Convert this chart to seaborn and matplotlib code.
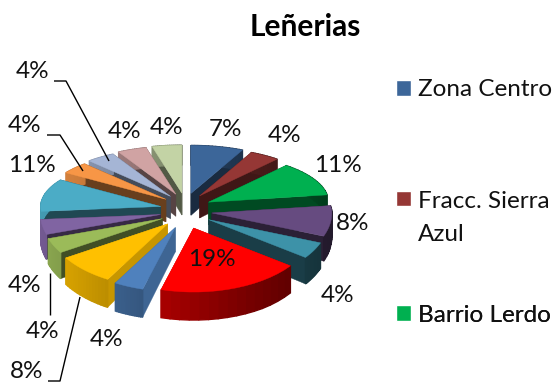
import numpy as np
import matplotlib
matplotlib.use("Agg")
import matplotlib.pyplot as plt
import seaborn as sns
from matplotlib.patches import Polygon, Patch, Rectangle
from matplotlib.legend_handler import HandlerPatch

sns.set_theme(style="white")
plt.rcParams['font.family'] = ['Lato', 'DejaVu Sans']

values = [7, 4, 11, 8, 4, 19, 4, 8, 4, 4, 11, 4, 4, 4, 4]
value_labels = [f"{v}%" for v in values]
slice_colors = ["#3C6699", "#953735", "#00B050", "#664B80", "#3D92A8", "#FF0000",
                "#4F81BD", "#FFC000", "#9BBB59", "#8064A2", "#4BACC6", "#F79646",
                "#A5B5D5", "#D0A3A3", "#C3D3A5"]
legend_names = ["Zona Centro", "Fracc. Sierra\nAzul", "Barrio Lerdo"]
title_text = "Leñerias"

palette = sns.color_palette(slice_colors)

W, H = 554, 383
fig = plt.figure(figsize=(W / 100, H / 100), dpi=100)
ax = fig.add_axes([0, 0, 1, 1])
ax.set_xlim(0, W)
ax.set_ylim(H, 0)
ax.axis("off")

CX, CY, RX, RY_B, RY_F, EX_R, EX_L, EY = 185, 211, 120, 48, 64, 27, 25, 18


def warp(theta):
    return theta + np.radians(5) * np.sin(theta / 2) ** 2


def project(theta, r, mid):
    th = warp(theta)
    m = warp(mid)
    ex = EX_R if np.sin(m) > 0 else EX_L
    dx = ex * np.sin(m)
    dy = -EY * np.cos(m)
    ry = RY_F if np.cos(th) < 0 else RY_B
    return CX + dx + r * RX * np.sin(th), CY + dy - r * ry * np.cos(th)


def depth(y):
    return 20 + 8 * np.clip((y - 165) / 115, 0, 1)


def shade(c, f):
    return tuple(min(1, v * f) for v in c)


total = sum(values)
edges = np.radians(np.cumsum([0] + values) / total * 360)
order = sorted(range(len(values)), key=lambda i: -np.cos((edges[i] + edges[i + 1]) / 2))

for i in order:
    a, b = edges[i], edges[i + 1]
    mid = (a + b) / 2
    col = palette[i]
    ths = np.linspace(a, b, 16)
    tip = project(a, 0, mid)
    outer = [project(t, 1, mid) for t in ths]
    tip_d = depth(tip[1])
    wall = 0.78 if np.cos(mid) < -0.7 else 0.42
    for p in (outer[0], outer[-1]):
        quad = [tip, p, (p[0], p[1] + depth(p[1])), (tip[0], tip[1] + tip_d)]
        ax.add_patch(Polygon(quad, closed=True, fc=shade(col, wall), ec=shade(col, wall), lw=0.3))
    for j in range(len(outer) - 1):
        p, q = outer[j], outer[j + 1]
        f = 0.62 - 0.28 * np.sin(ths[j])
        quad = [p, q, (q[0], q[1] + depth(q[1])), (p[0], p[1] + depth(p[1]))]
        ax.add_patch(Polygon(quad, closed=True, fc=shade(col, f), ec=shade(col, f), lw=1.0))
    ax.add_patch(Polygon([tip] + outer, closed=True, fc=col, ec=col, lw=0.3))

ax.text(305, 27, title_text, ha="center", va="center", fontsize=21.5,
        fontweight="bold", color="black")

label_xy = [(225, 130), (285, 135), (338, 165), (353, 223), (338, 295), (212, 260),
            (107, 340), (27, 372), (43, 332), (25, 286), (32, 166), (25, 126),
            (33, 72), (125, 132), (167, 128)]
for (x, y), s in zip(label_xy, value_labels):
    ax.text(x, y, s, ha="center", va="center", fontsize=17.5, color="#111111")

leaders = [[(54, 81), (66, 81), (109, 161)],
           [(47, 135), (60, 135), (83, 171)],
           [(50, 273), (50, 315)],
           [(48, 381), (60, 381), (80, 297)]]
for pts in leaders:
    xs, ys = zip(*pts)
    ax.plot(xs, ys, color="black", lw=1.0, solid_capstyle="butt")


def line_patch(shift):
    def make(legend, orig_handle, xdescent, ydescent, width, height, fontsize):
        return Rectangle((-xdescent, -ydescent + shift), width, height)
    return HandlerPatch(patch_func=make)


legend_y = [90, 218, 315]
legend_shift = [0, 14, 0]
for i, name in enumerate(legend_names):
    h = Patch(fc=slice_colors[i])
    leg = ax.legend([h], [name], loc="center left",
                    bbox_to_anchor=(396 / W, 1 - legend_y[i] / H), frameon=False,
                    fontsize=17.5, handlelength=0.6, handleheight=0.6, handletextpad=0.3,
                    borderpad=0, borderaxespad=0, labelcolor="#111111",
                    handler_map={h: line_patch(legend_shift[i])})
    for t in leg.get_texts():
        t.set_linespacing(1.7)
    ax.add_artist(leg)

fig.savefig("out.png", dpi=100)
